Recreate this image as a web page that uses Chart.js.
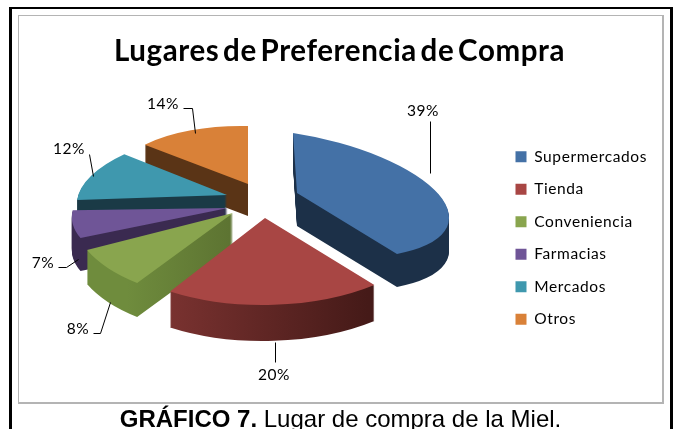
<!DOCTYPE html>
<html>
<head>
<meta charset="utf-8">
<script src="https://cdn.jsdelivr.net/npm/chart.js@4"></script>
<style>
  html, body { margin: 0; padding: 0; background: #fff; overflow: hidden; }
  #page { position: relative; width: 673px; height: 429px; overflow: hidden; }
  #page canvas { position: absolute; left: 0; top: 0; }
  #frame { position: absolute; left: 9px; top: 7px; width: 658px; height: 430px; border: 3px solid #000; border-top-width: 2px; border-bottom: 0; }
  #box { position: absolute; left: 18px; top: 15px; width: 643px; height: 386px; border: 2px solid #b4b4b4; border-width: 1px 2px 2px 1px; }
  #caption { position: absolute; left: 4px; width: 673px; top: 405px; text-align: center; font: 24px "Liberation Sans", sans-serif; color: #000; white-space: nowrap; }
</style>
</head>
<body>
<div id="page">
  <div id="frame"></div>
  <div id="box"></div>
  <canvas id="myChart" width="673" height="429"></canvas>
  <div id="caption"><b>GRÁFICO 7.</b> Lugar de compra de la Miel.</div>
</div>
<script>
const chartTitle = 'Lugares de Preferencia de Compra'
const categories = ['Supermercados', 'Tienda', 'Conveniencia', 'Farmacias', 'Mercados', 'Otros']
const shares = [39, 20, 8, 7, 12, 14]
const topColors = ['#4471a6', '#a84644', '#89a54e', '#6f5597', '#3f98ae', '#d98138']

// side colours, left to right across the wall
const sideColors = [
  ['#1c3048', '#1c3048'],
  ['#7c3331', '#451a18'],
  ['#6f8c3d', '#4a5a26'],
  ['#3a2a50', '#3a2a50'],
  ['#1a3a46', '#1a3a46'],
  ['#5a3416', '#5a3416']
]

// the 3D look: where each exploded slice sits and how it is flattened
// apex x, apex y, then the 2x2 matrix a b c d for a slice of radius 1
const sliceViews = [
  [297, 193, 152, 23, 4, 60],
  [265, 218, 174, 0, -2, 87],
  [233, 213, 160, 5, -12, 86],
  [228, 208, 154, 2, -26, 66],
  [227, 195, 149, -1, -19, 65],
  [248, 184, 134, 3, 0, 58]
]
const sliceDepth = [33, 36, 34, 33, 33, 32]
const paintOrder = [5, 4, 3, 2, 1, 0]

// label text centre, then the leader line
const labelLayout = [
  { at: [423, 111], line: [[430, 121], [430, 173]] },
  { at: [274, 375], line: [[275, 342], [275, 362]] },
  { at: [78, 329], line: [[93, 333], [100, 333], [110, 302]] },
  { at: [43, 263], line: [[58, 267], [66, 267], [78, 259]] },
  { at: [69, 149], line: [[89, 154], [93, 176]] },
  { at: [163, 104], line: [[183, 108], [192, 108], [195, 133]] }
]

const textFont = 'Lato, sans-serif'

const pie3d = {
  id: 'pie3d',
  beforeLayout(chart) {
    chart.ctx.letterSpacing = '0.6px'
    chart.ctx.wordSpacing = '-4px'
  },
  beforeDatasetsDraw(chart) {
    const ctx = chart.ctx
    const arcs = chart.getDatasetMeta(0).data
    paintOrder.forEach(i => {
      const arc = arcs[i]
      const R = arc.outerRadius
      const [ex, ey, a, b, c, d] = sliceViews[i]
      const topOptions = arc.options
      for (let dy = sliceDepth[i]; dy >= 0; dy--) {
        ctx.save()
        ctx.translate(ex, ey + dy)
        ctx.transform(a / R, b / R, c / R, d / R, 0, 0)
        ctx.translate(-arc.x, -arc.y)
        let fill = topColors[i]
        if (dy > 0) {
          fill = ctx.createLinearGradient(arc.x - R * 0.6, 0, arc.x + R * 0.6, 0)
          fill.addColorStop(0, sideColors[i][0])
          fill.addColorStop(1, sideColors[i][1])
        }
        arc.options = Object.assign({}, topOptions, { backgroundColor: fill })
        arc.draw(ctx)
        ctx.restore()
      }
      arc.options = topOptions
    })

    ctx.save()
    ctx.strokeStyle = '#000'
    ctx.lineWidth = 1
    ctx.fillStyle = '#000'
    ctx.font = '15.5px ' + textFont
    ctx.textAlign = 'center'
    ctx.textBaseline = 'middle'
    labelLayout.forEach((label, i) => {
      ctx.beginPath()
      label.line.forEach((p, j) => j ? ctx.lineTo(p[0] + 0.5, p[1] + 0.5) : ctx.moveTo(p[0] + 0.5, p[1] + 0.5))
      ctx.stroke()
      ctx.fillText(shares[i] + '%', label.at[0], label.at[1])
    })
    ctx.restore()
    return false
  }
}

new Chart(document.getElementById('myChart').getContext('2d'), {
  type: 'pie',
  plugins: [pie3d],
  data: {
    labels: categories,
    datasets: [{
      data: shares,
      backgroundColor: topColors,
      borderWidth: 0
    }]
  },
  options: {
    responsive: false,
    animation: false,
    layout: { padding: { top: 34, left: 22, right: 16, bottom: -13 } },
    plugins: {
      tooltip: { enabled: false },
      title: {
        display: true,
        text: chartTitle,
        color: '#000',
        font: { family: textFont, size: 29.5, weight: 'bold' },
        padding: { top: 0, bottom: 10 }
      },
      legend: {
        position: 'right',
        labels: {
          boxWidth: 11,
          boxHeight: 11,
          padding: 17,
          color: '#000',
          font: { family: textFont, size: 15.5 }
        }
      }
    }
  }
})
</script>
</body>
</html>
